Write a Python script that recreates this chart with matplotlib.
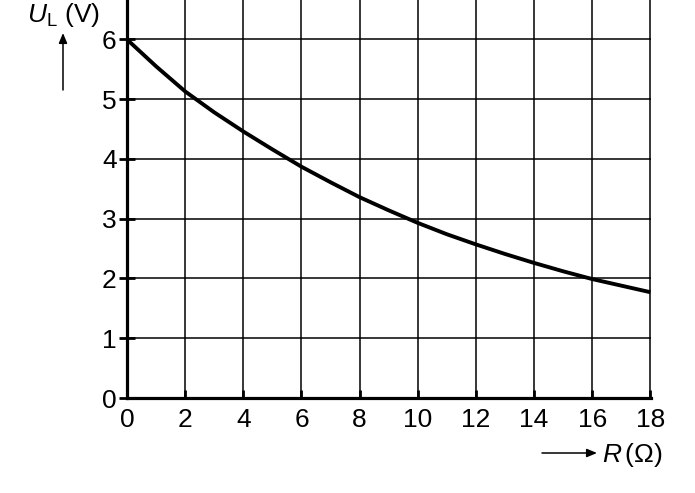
import numpy as np
import matplotlib
matplotlib.use("Agg")
import matplotlib.pyplot as plt

# values
resistance = [0, 1, 2, 3, 4, 5, 6, 7, 8, 9, 10, 11, 12, 13, 14, 15, 16, 17, 18]
voltage = [6.0, 5.55, 5.13, 4.78, 4.46, 4.16, 3.87, 3.61, 3.36, 3.14, 2.93,
           2.74, 2.57, 2.41, 2.26, 2.12, 1.99, 1.88, 1.77]

x_ticks = [0, 2, 4, 6, 8, 10, 12, 14, 16, 18]
y_ticks = [0, 1, 2, 3, 4, 5, 6]

plt.rcParams["font.family"] = ["Liberation Sans", "DejaVu Sans"]
plt.rcParams["mathtext.fontset"] = "custom"
plt.rcParams["mathtext.rm"] = "Liberation Sans"
plt.rcParams["mathtext.it"] = "Liberation Sans:italic"

fig = plt.figure(figsize=(6.95, 4.93), dpi=100)
ax = fig.add_axes([127 / 695, 95 / 493, 524 / 695, 398 / 493])

ax.set_xlim(0, 18.02)
ax.set_ylim(0, 6.66)

#Grid
ax.set_xticks(x_ticks)
ax.set_yticks(y_ticks)
ax.grid(True, color="black", linewidth=1.1)
ax.set_axisbelow(True)

#Curve
ax.plot(resistance, voltage, color="black", linewidth=2.8, solid_capstyle="butt", zorder=3)

#Axes styling
for side in ["top", "right"]:
    ax.spines[side].set_visible(False)
for side in ["left", "bottom"]:
    ax.spines[side].set_linewidth(2.3)
    ax.spines[side].set_zorder(4)

ax.tick_params(axis="x", direction="in", length=6, width=2, labelsize=19, pad=7)
ax.tick_params(axis="y", direction="inout", length=11, width=2, labelsize=19, pad=2)

#Axis labels with arrows
fig.text(27 / 695, 1 - 22 / 493, r"$U_{\mathrm{L}}$ (V)", fontsize=19, ha="left", va="baseline")
fig.add_artist(matplotlib.patches.FancyArrowPatch(
    (63 / 695, 1 - 90 / 493), (63 / 695, 1 - 33 / 493), transform=fig.transFigure,
    arrowstyle="-|>,head_length=6,head_width=2.5", color="black", linewidth=1.1, shrinkA=0, shrinkB=0))

fig.text(602 / 695, 1 - 462 / 493, r"$R\,$(Ω)", fontsize=19, ha="left", va="baseline")
fig.add_artist(matplotlib.patches.FancyArrowPatch(
    (542 / 695, 1 - 453 / 493), (597 / 695, 1 - 453 / 493), transform=fig.transFigure,
    arrowstyle="-|>,head_length=6,head_width=2.5", color="black", linewidth=1.1, shrinkA=0, shrinkB=0))

plt.savefig("out.png", dpi=100)
